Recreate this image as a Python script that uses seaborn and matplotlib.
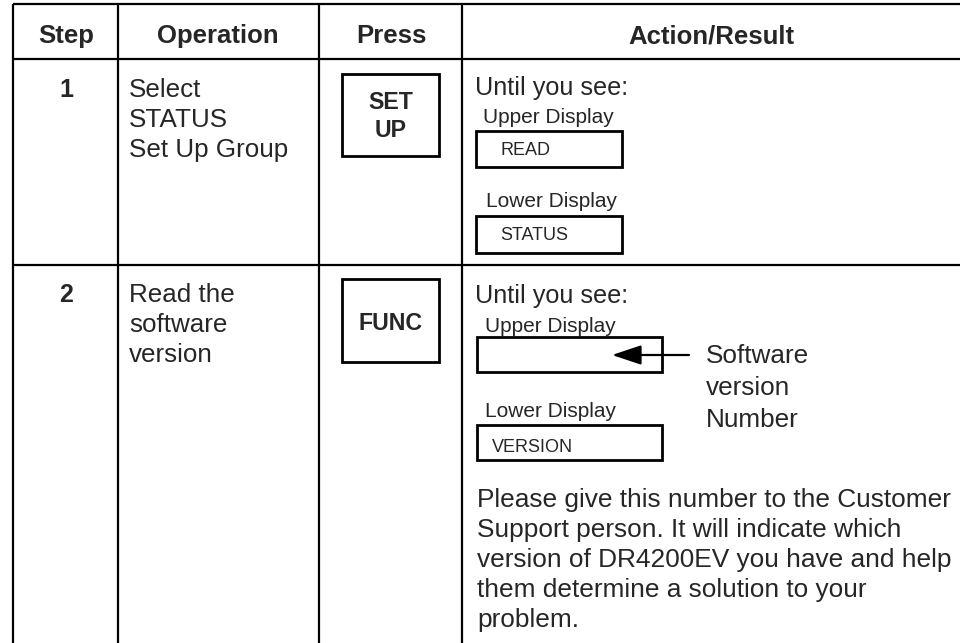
import matplotlib
matplotlib.use("Agg")
import matplotlib.pyplot as plt
from matplotlib.patches import Rectangle
import seaborn as sns

# ---- table content ----
headers = ["Step", "Operation", "Press", "Action/Result"]
steps = ["1", "2"]
operations = [["Select", "STATUS", "Set Up Group"],
              ["Read the", "software", "version"]]
press_keys = [["SET", "UP"], ["FUNC"]]
intro_text = "Until you see:"
display_labels = ["Upper Display", "Lower Display"]
row1_displays = ["READ", "STATUS"]
row2_displays = ["", "VERSION"]
callout_lines = ["Software", "version", "Number"]
note_lines = ["Please give this number to the Customer",
              "Support person. It will indicate which",
              "version of DR4200EV you have and help",
              "them determine a solution to your",
              "problem."]

# ---- layout (pixels) ----
W, H = 960, 643
col_edges = [13, 118, 319, 462]
row_lines = [4, 59, 265]
col_centers = [66, 218, 391, 711]

sns.set_theme(style="white")
plt.rcParams["font.family"] = ["Liberation Sans", "DejaVu Sans"]

fig = plt.figure(figsize=(W / 100, H / 100), dpi=100)
ax = fig.add_axes([0, 0, 1, 1])
ax.set_xlim(0, W)
ax.set_ylim(H, 0)
ax.axis("off")

lw = 1.6
# grid lines
for y in row_lines:
    ax.hlines(y, col_edges[0], W, color="black", lw=lw)
for x in col_edges:
    ax.vlines(x, row_lines[0], H, color="black", lw=lw)

# header
for cx, h in zip(col_centers, headers):
    ax.text(cx, 43, h, ha="center", va="baseline", fontsize=18.5, fontweight="bold")

# step numbers
for s, yb in zip(steps, [97, 302]):
    ax.text(col_centers[0], yb, s, ha="center", va="baseline", fontsize=18, fontweight="bold")

# operations
for lines, y0 in zip(operations, [97, 302]):
    for i, t in enumerate(lines):
        ax.text(129, y0 + 30 * i, t, ha="left", va="baseline", fontsize=18.7)

# press keys
key_boxes = [(342, 74, 97, 82), (342, 279, 97, 83)]
key_base = [[109, 137], [330]]
for (bx, by, bw, bh), keys, bases in zip(key_boxes, press_keys, key_base):
    ax.add_patch(Rectangle((bx, by), bw, bh, fill=False, ec="black", lw=2))
    for k, yb in zip(keys, bases):
        ax.text(bx + bw / 2, yb, k, ha="center", va="baseline", fontsize=16.7, fontweight="bold")

# action/result row 1
ax.text(475, 95, intro_text, ha="left", va="baseline", fontsize=18.2)
ax.text(483, 123, display_labels[0], ha="left", va="baseline", fontsize=15)
ax.add_patch(Rectangle((476, 131), 146, 36, fill=False, ec="black", lw=2))
ax.text(501, 155, row1_displays[0], ha="left", va="baseline", fontsize=13)
ax.text(486, 207, display_labels[1], ha="left", va="baseline", fontsize=15)
ax.add_patch(Rectangle((476, 216), 146, 37, fill=False, ec="black", lw=2))
ax.text(500, 240, row1_displays[1], ha="left", va="baseline", fontsize=13)

# action/result row 2
ax.text(475, 303, intro_text, ha="left", va="baseline", fontsize=18.2)
ax.text(485, 332, display_labels[0], ha="left", va="baseline", fontsize=15)
ax.add_patch(Rectangle((477, 337), 185, 35, fill=False, ec="black", lw=2))
ax.text(493, 360, row2_displays[0], ha="left", va="baseline", fontsize=13)
ax.annotate("", xy=(612, 355), xytext=(689, 355),
            arrowprops=dict(arrowstyle="-|>,head_length=0.9,head_width=0.3",
                            mutation_scale=20, lw=1.6, color="black",
                            shrinkA=0, shrinkB=0))
for i, t in enumerate(callout_lines):
    ax.text(706, 363 + 32 * i, t, ha="left", va="baseline", fontsize=18.8)
ax.text(485, 417, display_labels[1], ha="left", va="baseline", fontsize=15)
ax.add_patch(Rectangle((477, 425), 185, 35, fill=False, ec="black", lw=2))
ax.text(492, 452, row2_displays[1], ha="left", va="baseline", fontsize=13)

for i, t in enumerate(note_lines):
    ax.text(477, 507 + 30 * i, t, ha="left", va="baseline", fontsize=18.9)

fig.savefig("out.png", dpi=100, facecolor="white")
